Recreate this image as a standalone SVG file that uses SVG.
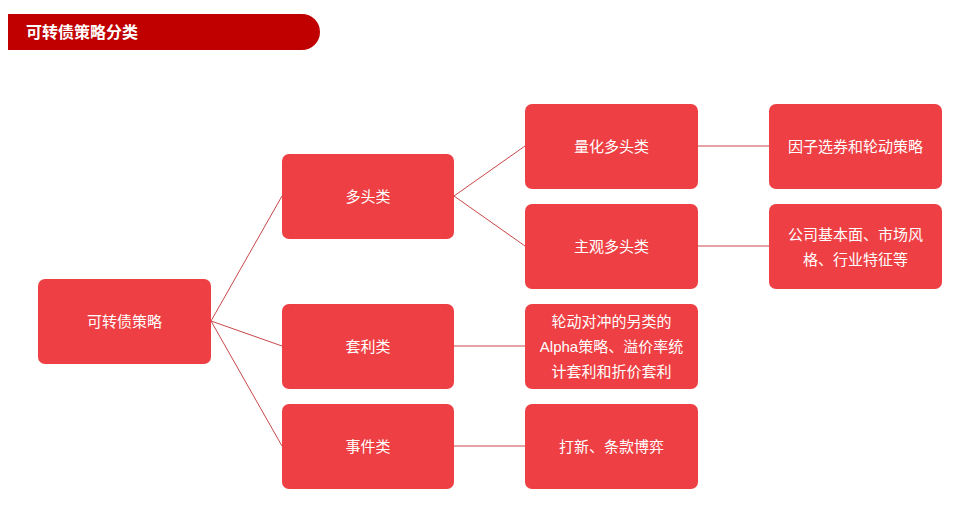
<svg xmlns="http://www.w3.org/2000/svg" width="965" height="518" viewBox="0 0 965 518">
<style>
.b{fill:#ee4044}
.t{fill:#fff;font-family:"Liberation Sans","Noto Sans CJK SC",sans-serif;font-size:15px;text-anchor:middle}
.c line{stroke:#c8474a;stroke-width:1}
</style>
<rect width="965" height="518" fill="#fff"/>
<g id="header"><path d="M8 14H302A18 18 0 0 1 302 50H8Z" fill="#c00000"/>
<text x="26" y="38" fill="#fff" font-family="Liberation Sans,'Noto Sans CJK SC',sans-serif" font-size="16" font-weight="bold">可转债策略分类</text></g>
<g class="c" id="connectors">
<line x1="211" y1="321" x2="282" y2="196"/><line x1="211" y1="321" x2="282" y2="346"/><line x1="211" y1="321" x2="282" y2="446"/>
<line x1="454" y1="196" x2="525" y2="146"/><line x1="454" y1="196" x2="525" y2="246"/>
<line x1="454" y1="346" x2="525" y2="346"/><line x1="454" y1="446" x2="525" y2="446"/>
<line x1="698" y1="146" x2="769" y2="146"/><line x1="698" y1="246" x2="769" y2="246"/>
</g>
<g id="root"><rect class="b" x="38" y="279" width="173" height="85" rx="7"/><text class="t" x="124.5" y="327">可转债策略</text></g>
<g id="n1"><rect class="b" x="282" y="154" width="172" height="85" rx="7"/><text class="t" x="368" y="202">多头类</text></g>
<g id="n2"><rect class="b" x="282" y="304" width="172" height="85" rx="7"/><text class="t" x="368" y="352">套利类</text></g>
<g id="n3"><rect class="b" x="282" y="404" width="172" height="85" rx="7"/><text class="t" x="368" y="452">事件类</text></g>
<g id="n4"><rect class="b" x="525" y="104" width="173" height="85" rx="7"/><text class="t" x="611.5" y="152">量化多头类</text></g>
<g id="n5"><rect class="b" x="525" y="204" width="173" height="85" rx="7"/><text class="t" x="611.5" y="252">主观多头类</text></g>
<g id="n6"><rect class="b" x="525" y="304" width="173" height="85" rx="7"/><text class="t" x="611.5" y="327">轮动对冲的另类的</text><text class="t" x="611.5" y="352">Alpha策略、溢价率统</text><text class="t" x="611.5" y="377">计套利和折价套利</text></g>
<g id="n7"><rect class="b" x="525" y="404" width="173" height="85" rx="7"/><text class="t" x="611.5" y="452">打新、条款博弈</text></g>
<g id="n8"><rect class="b" x="769" y="104" width="173" height="85" rx="7"/><text class="t" x="855.5" y="152">因子选券和轮动策略</text></g>
<g id="n9"><rect class="b" x="769" y="204" width="173" height="85" rx="7"/><text class="t" x="855.5" y="240">公司基本面、市场风</text><text class="t" x="855.5" y="265">格、行业特征等</text></g>
</svg>
